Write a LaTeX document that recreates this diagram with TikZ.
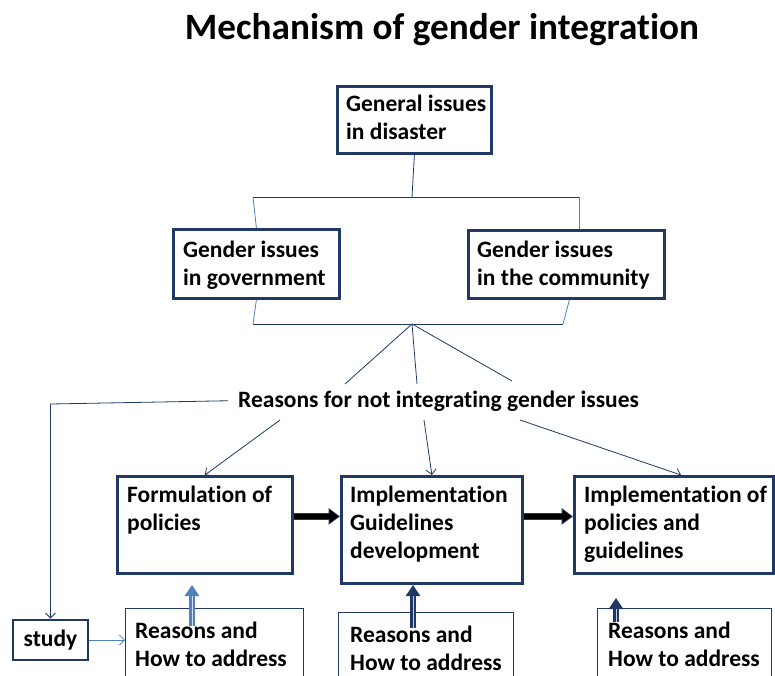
\documentclass[tikz,border=0pt]{standalone}
\usepackage{fontspec}
\setmainfont{Carlito}[Ligatures=NoCommon]
\usetikzlibrary{arrows.meta}
\definecolor{navy}{RGB}{31,56,100}
\definecolor{steel}{RGB}{79,129,189}
\tikzset{
  box/.style={draw=navy, line width=2.8pt, anchor=north west, inner sep=0pt},
  openbox/.style={draw=navy, line width=1.3pt, anchor=north west, inner sep=0pt},
  txt/.style={font=\fontsize{23.5}{28}\selectfont\bfseries, align=left, inner sep=0pt, anchor=north west},
  link/.style={draw=navy, line width=0.8pt},
  leg/.style={draw=steel, line width=0.8pt},
  arr/.style={draw=navy, line width=0.8pt, -{Straight Barb[length=5pt,width=10pt]}},
  fatarrow/.style={draw=black, line width=4.5pt, shorten >=1.5pt,
    -{Triangle[length=9pt,width=12.5pt]},
    preaction={draw=navy, line width=6.5pt, shorten >=0pt, -{Triangle[length=11.5pt,width=16pt]}}},
  blockup/.style={draw=#1, line width=5.5pt, -{Triangle[length=11pt,width=14pt]},
    postaction={draw=#1!25!white, line width=1pt, arrows=-, shorten >=11pt}}
}
\begin{document}
\begin{tikzpicture}[x=1pt,y=-1pt]
\clip (0,0) rectangle (775,675);
% title
\node[font=\fontsize{37.2}{40}\selectfont\bfseries, inner sep=0pt] (head) at (442,30) {Mechanism of gender integration};
% issue boxes
\node[box, minimum width=154, minimum height=67] (gen) at (336,85) {};
\node[txt] (gentxt) at (346,94.5) {General issues\\in disaster};
\node[box, minimum width=166, minimum height=69] (gov) at (172,228) {};
\node[txt] (govtxt) at (183,240.5) {Gender issues\\in government};
\node[box, minimum width=196, minimum height=68] (com) at (467,229) {};
\node[txt] (comtxt) at (477,240.5) {Gender issues\\in the community};
% upper bracket
\coordinate (tl) at (253,197);
\coordinate (tm) at (412,197);
\coordinate (tr) at (579,197);
\draw[link] (gen.south) -- (tm);
\draw[link] (tl) -- (tr);
\draw[leg] (tl) -- (gov.north);
\draw[leg] (tr) -- (tr |- com.north);
% lower bracket
\coordinate (bl) at (253,324);
\coordinate (hub) at (412,324);
\coordinate (br) at (563,324);
\draw[leg] (gov.south) -- (bl);
\draw[link] (bl) -- (br);
\draw[leg] (br) -- ([xshift=3]com.south);
\draw[link] (hub) -- (345,384);
\draw[link] (hub) -- (417,384);
\draw[link] (hub) -- (512,381);
% reasons
\node[txt, anchor=base west, inner xsep=10pt] (reasons) at (228,407) {Reasons for not integrating gender issues};
% stage boxes
\node[box, minimum width=175, minimum height=97] (form) at (116,475) {};
\node[txt] (formtxt) at (127,485.5) {Formulation of\\policies};
\node[box, minimum width=181, minimum height=107] (impl) at (340,475) {};
\node[txt] (impltxt) at (350,485.5) {Implementation\\Guidelines\\development};
\node[box, minimum width=199, minimum height=97] (pol) at (573,475) {};
\node[txt] (poltxt) at (584,485.5) {Implementation of\\policies and\\guidelines};
\draw[arr] (280,420) -- (form.north);
\draw[arr] (424,420) -- (impl.north);
\draw[arr] (520,420) -- ([xshift=7]pol.north);
\draw[fatarrow] ([yshift=8.5]form.east) -- ([yshift=13.5]impl.west);
\draw[fatarrow] ([yshift=13.5]impl.east) -- ([yshift=8.5]pol.west);
% study
\node[box, anchor=center, minimum width=75, minimum height=40, font=\fontsize{23.5}{28}\selectfont\bfseries] (study) at (50.5,640) {study};
\coordinate (turn) at (50.5,404);
\draw[arr] (reasons.west) -- (turn) -- (turn |- study.north);
% reasons and how to address
\node[openbox, minimum width=178, minimum height=100] (boxa) at (125,608) {};
\node[txt] (boxatxt) at (135,621.5) {Reasons and\\How to address};
\node[openbox, minimum width=175, minimum height=100] (boxb) at (338,612) {};
\node[txt] (boxbtxt) at (350,625.5) {Reasons and\\How to address};
\node[openbox, minimum width=174, minimum height=100] (boxc) at (597,608) {};
\node[txt] (boxctxt) at (608,621.5) {Reasons and\\How to address};
\draw[draw=steel, line width=0.8pt, -{Straight Barb[length=5pt,width=10pt]}] (study.east) -- (study.east -| boxa.west);
\coordinate (upa) at (192,626);
\coordinate (upb) at (413,628);
\coordinate (upc) at (616,622);
\draw[blockup=steel] (upa) -- ++(0,-41);
\draw[blockup=navy] (upb) -- ++(0,-43);
\draw[blockup=navy] (upc) -- ++(0,-24);
\end{tikzpicture}
\end{document}
